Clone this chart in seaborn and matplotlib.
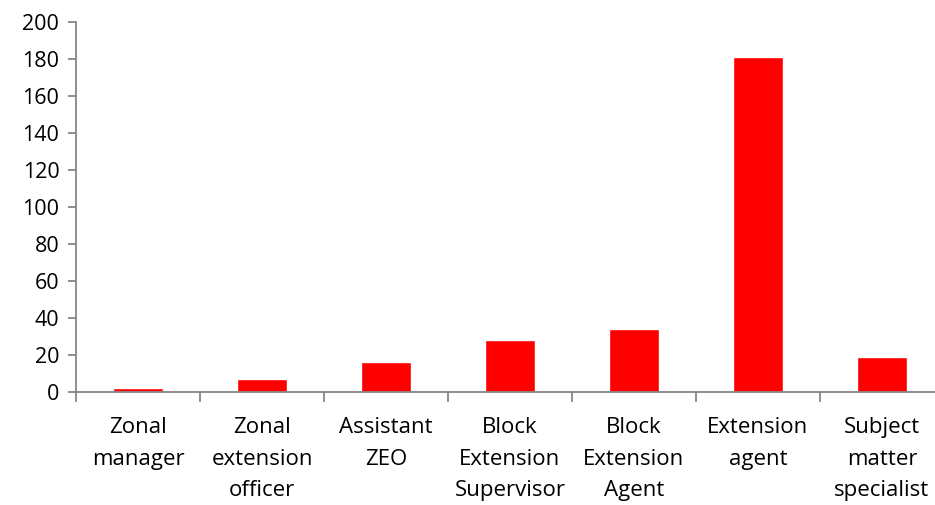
import matplotlib
matplotlib.use("Agg")
import matplotlib.pyplot as plt
import seaborn as sns
import pandas as pd
import numpy as np
from matplotlib.ticker import FixedLocator

categories = ["Zonal\nmanager", "Zonal\nextension\nofficer", "Assistant\nZEO",
              "Block\nExtension\nSupervisor", "Block\nExtension\nAgent",
              "Extension\nagent", "Subject\nmatter\nspecialist"]
values = [2, 7, 16, 28, 34, 181, 19]
yticks = [0, 20, 40, 60, 80, 100, 120, 140, 160, 180, 200]

sns.set_style("white")
plt.rcParams['font.family'] = ['Open Sans', 'DejaVu Sans']

df = pd.DataFrame({"cat": categories, "val": values})

fig = plt.figure(figsize=(9.35, 5.05), dpi=100)
ax = fig.add_axes([0.0813, 0.2238, 1.0096 - 0.0813, 0.9564 - 0.2238])
sns.barplot(data=df, x="cat", y="val", color="#FF0000", width=0.4,
            saturation=1, ax=ax)

ax.set_xlim(-0.5, len(categories) - 0.5)
ax.set_ylim(0, 200)
ax.set_yticks(yticks)
ax.set_yticklabels([str(t) for t in yticks], fontsize=15.5)
ax.set_xlabel("")
ax.set_ylabel("")
ax.set_xticks(range(len(categories)))
ax.set_xticklabels(categories, fontsize=16, linespacing=1.66, va="top")
ax.xaxis.set_minor_locator(FixedLocator(np.arange(-0.5, len(categories), 1)))

gray = "#868686"
for s in ["top", "right"]:
    ax.spines[s].set_visible(False)
for s in ["left", "bottom"]:
    ax.spines[s].set_color(gray)
    ax.spines[s].set_linewidth(1.3)

ax.tick_params(axis="y", which="major", left=True, length=6, width=1.3,
               color=gray, pad=6, labelcolor="black")
ax.tick_params(axis="x", which="major", bottom=True, length=0, pad=18,
               labelcolor="black")
ax.tick_params(axis="x", which="minor", bottom=True, length=7, width=1.3,
               color=gray)
ax.grid(False)

fig.savefig("out.png", dpi=100)
